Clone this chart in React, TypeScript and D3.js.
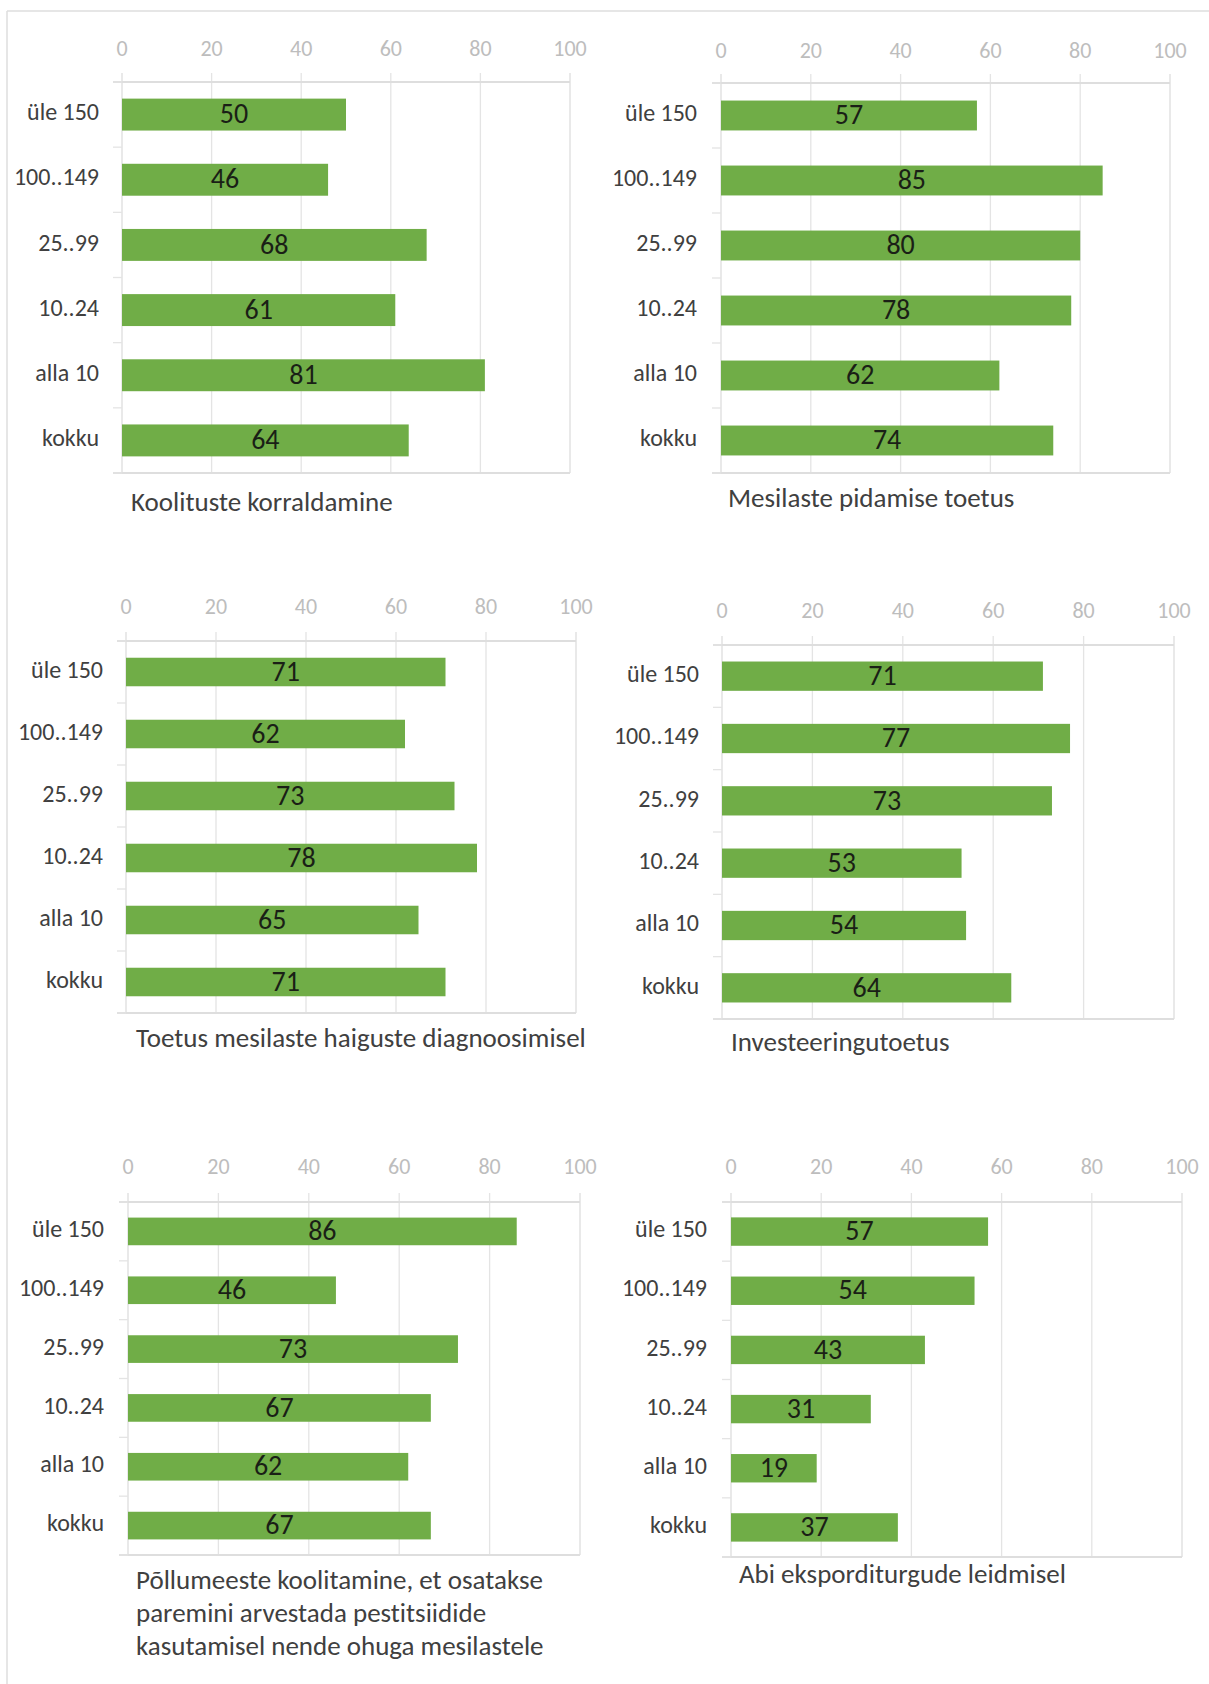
import React from 'react';
import * as d3 from 'd3';

// size groups of the farms (number of bee colonies)
const categories = ['üle 150', '100..149', '25..99', '10..24', 'alla 10', 'kokku'];
const xTicks = [0, 20, 40, 60, 80, 100];

const koolitusteKorraldamine = [50, 46, 68, 61, 81, 64];
const mesilastePidamiseToetus = [57, 85, 80, 78, 62, 74];
const haigusteDiagnoosimine = [71, 62, 73, 78, 65, 71];
const investeeringutoetus = [71, 77, 73, 53, 54, 64];
const pollumeesteKoolitamine = [86, 46, 73, 67, 62, 67];
const eksporditurud = [57, 54, 43, 31, 19, 37];

const titleKoolitused = ['Koolituste korraldamine'];
const titleMesilased = ['Mesilaste pidamise toetus'];
const titleHaigused = ['Toetus mesilaste haiguste diagnoosimisel'];
const titleInvest = ['Investeeringutoetus'];
const titlePollumehed = [
  'Põllumeeste koolitamine, et osatakse',
  'paremini arvestada pestitsiidide',
  'kasutamisel nende ohuga mesilastele',
];
const titleEksport = ['Abi eksporditurgude leidmisel'];

const FONT = 'Carlito, Lato, sans-serif';
const GREEN = '#70ad47';
const GRID = '#e4e4e4';
const FRAME = '#dedede';

interface PanelProps {
  values: number[];
  title: string[];
  x0: number;
  x1: number;
  top: number;
  bottom: number;
  pad: number;
  tickY: number;
  labelRight: number;
  titleX: number;
  titleBaseline: number;
  lineGap?: number;
  clipBottom?: number;
  id: string;
}

const Panel: React.FC<PanelProps> = ({
  values, title, x0, x1, top, bottom, pad, tickY, labelRight, titleX, titleBaseline, lineGap = 33, clipBottom, id,
}) => {
  const x = d3.scaleLinear().domain([0, 100]).range([x0, x1]);
  const y = d3.scaleBand<string>().domain(categories).range([top, bottom]).paddingInner(pad).paddingOuter(pad / 2);
  const band = d3.scaleBand<string>().domain(categories).range([top, bottom]);
  const boundaries = d3.range(categories.length + 1).map(i => top + i * band.step());

  return (
    <g>
      {/* vertical gridlines */}
      {xTicks.map(t => (
        <line key={t} x1={x(t)} x2={x(t)} y1={top - 9} y2={bottom}
          stroke={t === 0 || t === 100 ? FRAME : GRID} strokeWidth={1.3} />
      ))}
      {/* top & bottom frame */}
      <line x1={x0 - 9} x2={x1} y1={top} y2={top} stroke={FRAME} strokeWidth={2} />
      <line x1={x0 - 9} x2={x1} y1={bottom} y2={bottom} stroke={FRAME} strokeWidth={2} />
      {/* category ticks */}
      {boundaries.map((b, i) => (
        <line key={i} x1={x0 - 9} x2={x0} y1={b} y2={b} stroke={GRID} strokeWidth={1.3} />
      ))}
      {/* x tick labels */}
      {xTicks.map(t => (
        <text key={t} x={x(t)} y={tickY} textAnchor="middle" dominantBaseline="middle"
          fontFamily={FONT} fontWeight={300} fontSize={22} fill="#bdbdbd">{t}</text>
      ))}
      {/* bars */}
      {values.map((v, i) => (
        <rect key={i} x={x(0)} y={y(categories[i])} width={x(v) - x(0)} height={y.bandwidth()} fill={GREEN} />
      ))}
      {/* value labels */}
      {values.map((v, i) => (
        <text key={i} x={(x(0) + x(v)) / 2} y={(y(categories[i]) as number) + y.bandwidth() / 2 + 2}
          textAnchor="middle" dominantBaseline="middle" fontFamily={FONT} fontSize={28} fill="#1a1f16">{v}</text>
      ))}
      {/* category labels */}
      {categories.map(c => (
        <text key={c} x={labelRight} y={(band(c) as number) + band.step() / 2}
          textAnchor="end" dominantBaseline="middle" fontFamily={FONT} fontSize={24} fill="#404040">{c}</text>
      ))}
      {/* title */}
      {clipBottom !== undefined && (
        <clipPath id={id}>
          <rect x={0} y={0} width={1209} height={clipBottom} />
        </clipPath>
      )}
      <g clipPath={clipBottom !== undefined ? `url(#${id})` : undefined}>
        {title.map((line, i) => (
          <text key={i} x={titleX} y={titleBaseline + i * lineGap} fontFamily={FONT} fontSize={27} fill="#404040"
            style={{ fontVariantLigatures: 'none' }}>{line}</text>
        ))}
      </g>
    </g>
  );
};

export default function App() {
  return (
    <svg width={1209} height={1684} style={{ position: 'absolute', left: 0, top: 0, display: 'block', background: '#fff' }}>
      <rect x={0} y={0} width={1209} height={1684} fill="#fff" />
      <line x1={7} x2={1209} y1={11} y2={11} stroke={FRAME} strokeWidth={1.5} />
      <line x1={7} x2={7} y1={11} y2={1684} stroke={FRAME} strokeWidth={1.5} />

      <Panel id="p1" values={koolitusteKorraldamine} title={titleKoolitused}
        x0={122} x1={570} top={82} bottom={473} pad={0.51} tickY={51} labelRight={99}
        titleX={131} titleBaseline={511} />
      <Panel id="p2" values={mesilastePidamiseToetus} title={titleMesilased}
        x0={721} x1={1170} top={83} bottom={473} pad={0.54} tickY={53} labelRight={697}
        titleX={728} titleBaseline={507} />
      <Panel id="p3" values={haigusteDiagnoosimine} title={titleHaigused}
        x0={126} x1={576} top={641} bottom={1013} pad={0.54} tickY={609} labelRight={103}
        titleX={136} titleBaseline={1047} />
      <Panel id="p4" values={investeeringutoetus} title={titleInvest}
        x0={722} x1={1174} top={645} bottom={1019} pad={0.53} tickY={613} labelRight={699}
        titleX={731} titleBaseline={1051} />
      <Panel id="p5" values={pollumeesteKoolitamine} title={titlePollumehed}
        x0={128} x1={580} top={1202} bottom={1555} pad={0.53} tickY={1169} labelRight={104}
        titleX={136} titleBaseline={1589} lineGap={33} />
      <Panel id="p6" values={eksporditurud} title={titleEksport}
        x0={731} x1={1182} top={1202} bottom={1557} pad={0.52} tickY={1169} labelRight={707}
        titleX={739} titleBaseline={1583} clipBottom={1587} />
    </svg>
  );
}
